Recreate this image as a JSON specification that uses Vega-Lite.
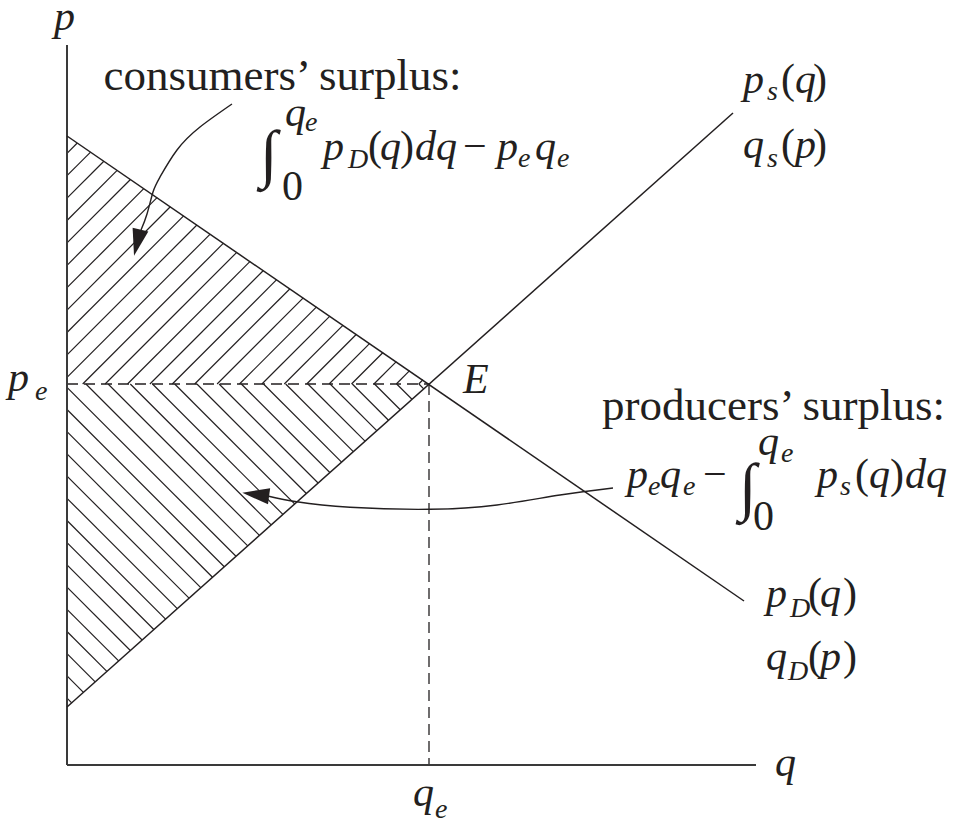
{
  "$schema": "https://vega.github.io/schema/vega-lite/v6.json",
  "width": 963,
  "height": 825,
  "padding": 0,
  "autosize": {"type": "none"},
  "config": {"view": {"stroke": null}},
  "datasets": {
    "axes": [
      {"q": 0, "p": 0, "q2": 0, "p2": 720},
      {"q": 0, "p": 0, "q2": 689, "p2": 0}
    ],
    "curves": [
      {"name": "demand", "q": 0, "p": 629, "q2": 677, "p2": 164},
      {"name": "supply", "q": 0, "p": 58, "q2": 666, "p2": 652}
    ],
    "dashed": [
      {"q": 0, "p": 381, "q2": 362, "p2": 381},
      {"q": 362, "p": 381, "q2": 362, "p2": 0}
    ],
    "hatch": [
      {"q": 0, "p": 611.7, "q2": 10.27, "p2": 621.97},
      {"q": 0, "p": 589.3, "q2": 23.56, "p2": 612.86},
      {"q": 0, "p": 566.9, "q2": 36.85, "p2": 603.75},
      {"q": 0, "p": 544.5, "q2": 50.15, "p2": 594.65},
      {"q": 0, "p": 522.1, "q2": 63.44, "p2": 585.54},
      {"q": 0, "p": 499.7, "q2": 76.74, "p2": 576.44},
      {"q": 0, "p": 477.3, "q2": 90.03, "p2": 567.33},
      {"q": 0, "p": 454.9, "q2": 103.32, "p2": 558.22},
      {"q": 0, "p": 432.5, "q2": 116.62, "p2": 549.12},
      {"q": 0, "p": 410.1, "q2": 129.91, "p2": 540.01},
      {"q": 0, "p": 387.7, "q2": 143.2, "p2": 530.9},
      {"q": 15.7, "p": 381, "q2": 156.5, "p2": 521.8},
      {"q": 38.1, "p": 381, "q2": 169.79, "p2": 512.69},
      {"q": 60.5, "p": 381, "q2": 183.09, "p2": 503.59},
      {"q": 82.9, "p": 381, "q2": 196.38, "p2": 494.48},
      {"q": 105.3, "p": 381, "q2": 209.67, "p2": 485.37},
      {"q": 127.7, "p": 381, "q2": 222.97, "p2": 476.27},
      {"q": 150.1, "p": 381, "q2": 236.26, "p2": 467.16},
      {"q": 172.5, "p": 381, "q2": 249.55, "p2": 458.05},
      {"q": 194.9, "p": 381, "q2": 262.85, "p2": 448.95},
      {"q": 217.3, "p": 381, "q2": 276.14, "p2": 439.84},
      {"q": 239.7, "p": 381, "q2": 289.44, "p2": 430.74},
      {"q": 262.1, "p": 381, "q2": 302.73, "p2": 421.63},
      {"q": 284.5, "p": 381, "q2": 316.02, "p2": 412.52},
      {"q": 306.9, "p": 381, "q2": 329.32, "p2": 403.42},
      {"q": 329.3, "p": 381, "q2": 342.61, "p2": 394.31},
      {"q": 351.7, "p": 381, "q2": 355.91, "p2": 385.21},
      {"q": 0, "p": 66.9, "q2": 4.7, "p2": 62.19},
      {"q": 0, "p": 89.1, "q2": 16.44, "p2": 72.66},
      {"q": 0, "p": 111.3, "q2": 28.17, "p2": 83.13},
      {"q": 0, "p": 133.5, "q2": 39.9, "p2": 93.6},
      {"q": 0, "p": 155.7, "q2": 51.64, "p2": 104.06},
      {"q": 0, "p": 177.9, "q2": 63.37, "p2": 114.53},
      {"q": 0, "p": 200.1, "q2": 75.11, "p2": 124.99},
      {"q": 0, "p": 222.3, "q2": 86.84, "p2": 135.46},
      {"q": 0, "p": 244.5, "q2": 98.57, "p2": 145.93},
      {"q": 0, "p": 266.7, "q2": 110.31, "p2": 156.39},
      {"q": 0, "p": 288.9, "q2": 122.04, "p2": 166.86},
      {"q": 0, "p": 311.1, "q2": 133.77, "p2": 177.33},
      {"q": 0, "p": 333.3, "q2": 145.51, "p2": 187.79},
      {"q": 0, "p": 355.5, "q2": 157.24, "p2": 198.26},
      {"q": 0, "p": 377.7, "q2": 168.97, "p2": 208.73},
      {"q": 18.9, "p": 381, "q2": 180.71, "p2": 219.19},
      {"q": 41.1, "p": 381, "q2": 192.44, "p2": 229.66},
      {"q": 63.3, "p": 381, "q2": 204.18, "p2": 240.12},
      {"q": 85.5, "p": 381, "q2": 215.91, "p2": 250.59},
      {"q": 107.7, "p": 381, "q2": 227.64, "p2": 261.06},
      {"q": 129.9, "p": 381, "q2": 239.38, "p2": 271.52},
      {"q": 152.1, "p": 381, "q2": 251.11, "p2": 281.99},
      {"q": 174.3, "p": 381, "q2": 262.84, "p2": 292.46},
      {"q": 196.5, "p": 381, "q2": 274.58, "p2": 302.92},
      {"q": 218.7, "p": 381, "q2": 286.31, "p2": 313.39},
      {"q": 240.9, "p": 381, "q2": 298.04, "p2": 323.86},
      {"q": 263.1, "p": 381, "q2": 309.78, "p2": 334.32},
      {"q": 285.3, "p": 381, "q2": 321.51, "p2": 344.79},
      {"q": 307.5, "p": 381, "q2": 333.25, "p2": 355.25},
      {"q": 329.7, "p": 381, "q2": 344.98, "p2": 365.72},
      {"q": 351.9, "p": 381, "q2": 356.71, "p2": 376.19}
    ],
    "arrowcurves": [
      {"arrow": "consumers", "i": 0, "q": 165, "p": 661},
      {"arrow": "consumers", "i": 1, "q": 133, "p": 638},
      {"arrow": "consumers", "i": 2, "q": 110, "p": 615},
      {"arrow": "consumers", "i": 3, "q": 93, "p": 588},
      {"arrow": "consumers", "i": 4, "q": 86, "p": 573},
      {"arrow": "consumers", "i": 5, "q": 80, "p": 551},
      {"arrow": "consumers", "i": 6, "q": 74, "p": 535},
      {"arrow": "producers", "i": 0, "q": 546, "p": 277},
      {"arrow": "producers", "i": 1, "q": 493, "p": 270},
      {"arrow": "producers", "i": 2, "q": 430, "p": 260},
      {"arrow": "producers", "i": 3, "q": 363, "p": 255.7},
      {"arrow": "producers", "i": 4, "q": 283, "p": 257.7},
      {"arrow": "producers", "i": 5, "q": 229.7, "p": 263.3},
      {"arrow": "producers", "i": 6, "q": 201.7, "p": 268.8}
    ],
    "headConsumers": [{"q": 70.25, "p": 522.25}],
    "headProducers": [{"q": 188.7, "p": 270.5}],
    "textRoman": [
      {"t": "consumers’ surplus:", "q": 215.5, "p": 675},
      {"t": "producers’ surplus:", "q": 706.5, "p": 345}
    ],
    "mathItalic": [
      {"t": "p", "q": -13, "p": 735},
      {"t": "q", "q": 708, "p": -11},
      {"t": "E", "q": 396, "p": 372},
      {"t": "p", "q": -59, "p": 374},
      {"t": "q", "q": 346, "p": -41},
      {"t": "p", "q": 676, "p": 672},
      {"t": "q", "q": 728, "p": 672},
      {"t": "q", "q": 676, "p": 607},
      {"t": "p", "q": 728, "p": 607},
      {"t": "p", "q": 699, "p": 158},
      {"t": "q", "q": 753, "p": 158},
      {"t": "q", "q": 699, "p": 95},
      {"t": "p", "q": 753, "p": 95},
      {"t": "p", "q": 256, "p": 605},
      {"t": "q", "q": 313, "p": 605},
      {"t": "dq", "q": 348, "p": 605},
      {"t": "p", "q": 430, "p": 605},
      {"t": "q", "q": 468, "p": 605},
      {"t": "q", "q": 218, "p": 639},
      {"t": "p", "q": 560, "p": 277},
      {"t": "q", "q": 593, "p": 277},
      {"t": "q", "q": 691, "p": 310},
      {"t": "p", "q": 750, "p": 277},
      {"t": "q", "q": 802, "p": 277},
      {"t": "dq", "q": 838, "p": 277}
    ],
    "mathRoman": [
      {"t": "(", "q": 714, "p": 672},
      {"t": ")", "q": 746, "p": 672},
      {"t": "(", "q": 714, "p": 607},
      {"t": ")", "q": 746, "p": 607},
      {"t": "(", "q": 741, "p": 158},
      {"t": ")", "q": 776, "p": 158},
      {"t": "(", "q": 741, "p": 95},
      {"t": ")", "q": 776, "p": 95},
      {"t": "(", "q": 301, "p": 605},
      {"t": ")", "q": 333, "p": 605},
      {"t": "−", "q": 396, "p": 605},
      {"t": "0", "q": 215, "p": 565},
      {"t": "−", "q": 636, "p": 277},
      {"t": "0", "q": 686, "p": 235},
      {"t": "(", "q": 788, "p": 277},
      {"t": ")", "q": 823, "p": 277}
    ],
    "subItalic": [
      {"t": "e", "q": -32, "p": 365},
      {"t": "e", "q": 368, "p": -53},
      {"t": "s", "q": 700, "p": 665},
      {"t": "s", "q": 700, "p": 598},
      {"t": "D", "q": 723, "p": 148},
      {"t": "D", "q": 721, "p": 85},
      {"t": "D", "q": 281, "p": 597},
      {"t": "e", "q": 451, "p": 598},
      {"t": "e", "q": 490, "p": 598},
      {"t": "e", "q": 238, "p": 634},
      {"t": "e", "q": 581, "p": 270},
      {"t": "e", "q": 616, "p": 270},
      {"t": "e", "q": 714, "p": 303},
      {"t": "s", "q": 773, "p": 270}
    ],
    "integrals": [
      {"t": "∫", "q": 193, "p": 590},
      {"t": "∫", "q": 672, "p": 257}
    ]
  },
  "encoding": {
    "x": {"field": "q", "type": "quantitative", "scale": {"domain": [-67, 896], "nice": false, "zero": false}, "axis": null},
    "y": {"field": "p", "type": "quantitative", "scale": {"domain": [-60, 765], "nice": false, "zero": false}, "axis": null}
  },
  "layer": [
    {
      "data": {"name": "hatch"},
      "mark": {"type": "rule", "color": "#231f20", "strokeWidth": 1.2},
      "encoding": {"x2": {"field": "q2"}, "y2": {"field": "p2"}}
    },
    {
      "data": {"name": "dashed"},
      "mark": {"type": "rule", "color": "#231f20", "strokeWidth": 1.3, "strokeDash": [11, 6]},
      "encoding": {"x2": {"field": "q2"}, "y2": {"field": "p2"}}
    },
    {
      "data": {"name": "axes"},
      "mark": {"type": "rule", "color": "#3a3a3a", "strokeWidth": 2},
      "encoding": {"x2": {"field": "q2"}, "y2": {"field": "p2"}}
    },
    {
      "data": {"name": "curves"},
      "mark": {"type": "rule", "color": "#231f20", "strokeWidth": 1.5},
      "encoding": {"x2": {"field": "q2"}, "y2": {"field": "p2"}}
    },
    {
      "data": {"name": "arrowcurves"},
      "mark": {"type": "line", "color": "#231f20", "strokeWidth": 1.4, "interpolate": "natural"},
      "encoding": {"detail": {"field": "arrow"}, "order": {"field": "i", "type": "quantitative"}}
    },
    {
      "data": {"name": "headConsumers"},
      "mark": {"type": "point", "shape": "M0,-1L0.6,1L-0.6,1Z", "size": 729, "angle": 193.8, "filled": true, "color": "#231f20", "opacity": 1}
    },
    {
      "data": {"name": "headProducers"},
      "mark": {"type": "point", "shape": "M0,-1L0.6,1L-0.6,1Z", "size": 729, "angle": 277.6, "filled": true, "color": "#231f20", "opacity": 1}
    },
    {
      "data": {"name": "textRoman"},
      "mark": {"type": "text", "align": "center", "baseline": "alphabetic", "font": "Liberation Serif", "fontSize": 45, "color": "#231f20"},
      "encoding": {"text": {"field": "t"}}
    },
    {
      "data": {"name": "mathItalic"},
      "mark": {"type": "text", "align": "left", "baseline": "alphabetic", "font": "Liberation Serif", "fontSize": 42, "fontStyle": "italic", "color": "#231f20"},
      "encoding": {"text": {"field": "t"}}
    },
    {
      "data": {"name": "mathRoman"},
      "mark": {"type": "text", "align": "left", "baseline": "alphabetic", "font": "Liberation Serif", "fontSize": 42, "color": "#231f20"},
      "encoding": {"text": {"field": "t"}}
    },
    {
      "data": {"name": "subItalic"},
      "mark": {"type": "text", "align": "left", "baseline": "alphabetic", "font": "Liberation Serif", "fontSize": 28, "fontStyle": "italic", "color": "#231f20"},
      "encoding": {"text": {"field": "t"}}
    },
    {
      "data": {"name": "integrals"},
      "mark": {"type": "text", "align": "left", "baseline": "alphabetic", "font": "Liberation Serif", "fontSize": 64, "color": "#231f20"},
      "encoding": {"text": {"field": "t"}}
    }
  ]
}
